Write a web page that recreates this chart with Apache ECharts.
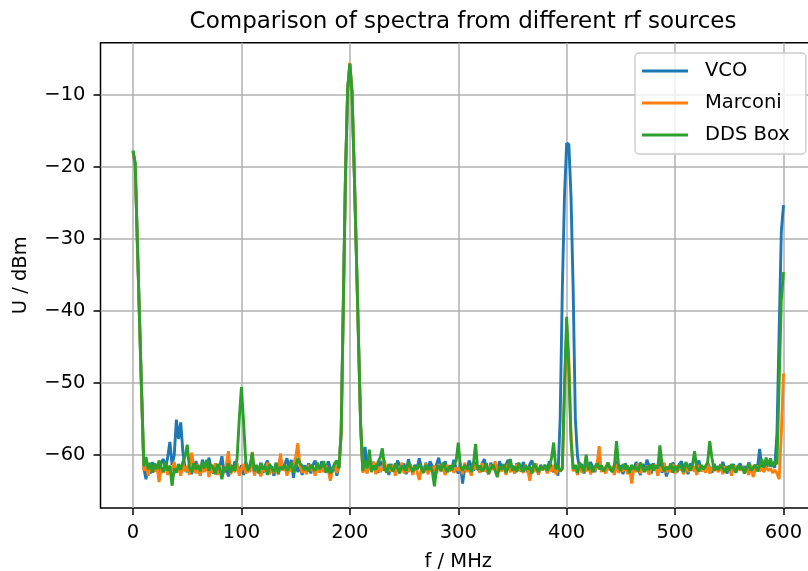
<!DOCTYPE html>
<html>
<head>
<meta charset="utf-8">
<script src="https://cdn.jsdelivr.net/npm/echarts@6/dist/echarts.min.js"></script>
<style>
  html, body { margin: 0; padding: 0; background: #fff; }
  #chart { width: 808px; height: 571px; }
</style>
</head>
<body>
<div id="chart"></div>
<script>
(function () {
    'use strict';

    // frequency axis, MHz
    var freqMHz = [
        0, 2, 4, 6, 8, 10, 12, 14, 16, 18, 20, 22, 24, 26, 28, 30, 32, 34, 36, 38,
        40, 42, 44, 46, 48, 50, 52, 54, 56, 58, 60, 62, 64, 66, 68, 70, 72, 74, 76, 78,
        80, 82, 84, 86, 88, 90, 92, 94, 96, 98, 100, 102, 104, 106, 108, 110, 112, 114, 116, 118,
        120, 122, 124, 126, 128, 130, 132, 134, 136, 138, 140, 142, 144, 146, 148, 150, 152, 154, 156, 158,
        160, 162, 164, 166, 168, 170, 172, 174, 176, 178, 180, 182, 184, 186, 188, 190, 192, 194, 196, 198,
        200, 202, 204, 206, 208, 210, 212, 214, 216, 218, 220, 222, 224, 226, 228, 230, 232, 234, 236, 238,
        240, 242, 244, 246, 248, 250, 252, 254, 256, 258, 260, 262, 264, 266, 268, 270, 272, 274, 276, 278,
        280, 282, 284, 286, 288, 290, 292, 294, 296, 298, 300, 302, 304, 306, 308, 310, 312, 314, 316, 318,
        320, 322, 324, 326, 328, 330, 332, 334, 336, 338, 340, 342, 344, 346, 348, 350, 352, 354, 356, 358,
        360, 362, 364, 366, 368, 370, 372, 374, 376, 378, 380, 382, 384, 386, 388, 390, 392, 394, 396, 398,
        400, 402, 404, 406, 408, 410, 412, 414, 416, 418, 420, 422, 424, 426, 428, 430, 432, 434, 436, 438,
        440, 442, 444, 446, 448, 450, 452, 454, 456, 458, 460, 462, 464, 466, 468, 470, 472, 474, 476, 478,
        480, 482, 484, 486, 488, 490, 492, 494, 496, 498, 500, 502, 504, 506, 508, 510, 512, 514, 516, 518,
        520, 522, 524, 526, 528, 530, 532, 534, 536, 538, 540, 542, 544, 546, 548, 550, 552, 554, 556, 558,
        560, 562, 564, 566, 568, 570, 572, 574, 576, 578, 580, 582, 584, 586, 588, 590, 592, 594, 596, 598,
        600
    ];

    // VCO, dBm
    var vco = [
        -17.8, -19.6, -30.5, -41.2, -51.8, -61.9, -63.4, -61.2, -62.6, -61.0,
        -62.3, -61.5, -62.8, -61.1, -60.6, -62.0, -60.3, -58.2, -61.4, -60.1,
        -55.1, -57.8, -55.5, -59.6, -61.9, -62.4, -61.3, -62.7, -61.6, -60.9,
        -61.8, -62.9, -60.7, -61.5, -62.2, -60.4, -61.9, -62.6, -61.2, -62.0,
        -61.6, -60.2, -62.5, -61.8, -63.0, -61.4, -62.1, -60.9, -61.7, -62.3,
        -61.5, -62.8, -61.0, -62.4, -61.3, -60.6, -62.7, -61.9, -62.2, -61.1,
        -62.5, -61.4, -60.8, -62.0, -61.6, -62.9, -61.2, -61.8, -60.4, -62.1,
        -61.3, -60.5, -61.9, -60.7, -63.2, -61.0, -62.4, -61.6, -62.8, -61.5,
        -62.0, -61.2, -62.6, -61.4, -60.8, -61.9, -62.3, -60.9, -61.7, -62.5,
        -60.9, -61.8, -62.4, -61.2, -62.9, -61.5, -57.0, -39.0, -21.0, -9.2,
        -5.7, -9.6, -20.2, -32.0, -44.0, -56.0, -62.3, -58.9, -61.6, -60.5,
        -62.1, -61.0, -61.8, -62.5, -60.9, -61.4, -62.2, -61.7, -62.8, -61.3,
        -61.9, -62.4, -60.8, -61.5, -62.1, -61.2, -62.7, -60.6, -61.8, -62.3,
        -61.4, -62.0, -60.5, -61.7, -62.5, -61.1, -62.2, -60.9, -61.6, -62.8,
        -61.3, -60.4, -62.1, -61.8, -60.9, -62.4, -61.5, -62.0, -60.7, -61.9,
        -62.6, -61.2, -64.0, -61.7, -62.3, -60.8, -61.5, -62.2, -61.0, -61.8,
        -62.4, -61.3, -60.6, -61.9, -62.7, -61.1, -62.0, -61.6, -62.5, -60.9,
        -61.7, -62.2, -61.4, -60.7, -62.0, -61.5, -62.6, -61.2, -61.8, -62.3,
        -61.0, -61.9, -62.4, -61.3, -60.8, -62.1, -61.6, -62.7, -61.4, -62.0,
        -61.5, -62.2, -60.9, -61.8, -62.4, -61.2, -62.9, -55.0, -37.0, -24.0,
        -16.7, -16.8, -24.0, -37.0, -55.0, -60.2, -62.0, -61.3, -62.6, -61.5,
        -62.2, -61.0, -61.7, -62.4, -61.3, -60.6, -62.1, -61.8, -62.5, -61.1,
        -61.9, -62.3, -61.4, -60.9, -62.0, -61.5, -62.7, -61.2, -61.8, -62.2,
        -61.6, -62.4, -61.0, -61.9, -62.8, -61.3, -62.1, -60.7, -61.5, -62.6,
        -61.2, -62.0, -61.7, -60.8, -62.5, -61.4, -63.0, -61.9, -62.3, -61.1,
        -61.8, -62.4, -61.3, -60.9, -62.1, -61.6, -62.7, -61.2, -61.9, -62.2,
        -61.4, -60.8, -62.3, -61.7, -62.0, -61.1, -61.8, -62.5, -61.3, -62.0,
        -61.6, -62.2, -61.0, -61.9, -62.6, -61.5, -62.1, -61.3, -62.4, -61.7,
        -61.2, -62.0, -61.6, -62.3, -61.1, -61.8, -62.2, -61.4, -61.9, -59.2,
        -61.7, -61.0, -61.5, -60.8, -61.6, -61.2, -61.8, -57.0, -43.0, -29.0,
        -25.3
    ];

    // Marconi, dBm
    var marconi = [
        -17.9, -19.7, -30.6, -41.3, -51.9, -62.2, -61.5, -62.9, -61.3, -62.4,
        -62.2, -61.4, -63.8, -61.9, -62.5, -61.3, -62.8, -61.6, -62.2, -61.0,
        -62.4, -61.7, -62.9, -61.2, -62.3, -61.6, -62.8, -59.7, -61.5, -62.6,
        -61.3, -62.9, -61.8, -62.4, -60.9, -63.1, -61.7, -62.5, -61.2, -62.8,
        -61.5, -63.0, -62.1, -61.4, -59.5, -62.7, -61.8, -62.4, -61.2, -62.9,
        -62.0, -61.3, -62.6, -61.8, -62.4, -59.6, -62.9, -61.5, -62.2, -63.0,
        -61.6, -62.3, -61.1, -62.7, -61.9, -62.5, -61.4, -62.8, -59.8, -62.2,
        -61.5, -62.9, -61.8, -62.3, -61.2, -60.4, -58.4, -61.6, -62.5, -61.9,
        -62.7, -61.4, -62.2, -61.8, -62.9, -61.3, -62.5, -61.7, -62.4, -61.5,
        -62.1, -63.6, -62.0, -61.4, -62.5, -61.7, -57.2, -39.2, -21.1, -9.0,
        -5.5, -9.5, -20.1, -32.1, -44.2, -56.1, -62.5, -61.8, -62.6, -61.4,
        -62.2, -61.0, -62.7, -61.6, -62.4, -61.9, -60.8, -62.5, -61.7, -62.3,
        -61.4, -62.9, -61.8, -62.2, -61.1, -62.6, -61.9, -62.4, -61.3, -62.8,
        -61.6, -62.3, -63.5, -61.9, -62.5, -61.2, -62.7, -61.8, -62.4, -61.5,
        -62.6, -61.3, -62.2, -61.9, -62.8, -61.4, -62.3, -61.7, -62.5, -61.8,
        -62.2, -61.5, -62.7, -61.1, -62.4, -61.8, -62.9, -61.3, -62.0, -61.6,
        -62.5, -61.2, -62.3, -61.9, -62.7, -61.4, -62.1, -60.9, -62.6, -61.7,
        -62.3, -61.5, -62.8, -61.2, -62.4, -61.8, -62.6, -61.3, -62.2, -61.9,
        -62.5, -61.4, -62.0, -63.6, -61.7, -62.4, -61.2, -62.8, -61.6, -62.1,
        -61.5, -62.6, -61.8, -62.3, -61.4, -62.7, -61.9, -62.3, -62.0, -52.0,
        -42.0, -46.5, -57.0, -62.3, -61.6, -62.8, -61.2, -62.5, -61.8, -62.3,
        -61.5, -62.7, -61.9, -62.2, -61.3, -58.8, -62.4, -61.7, -62.6, -61.4,
        -62.2, -61.6, -62.8, -61.3, -62.5, -61.9, -62.3, -61.5, -62.7, -61.8,
        -64.0, -61.7, -62.4, -61.2, -62.6, -61.8, -62.3, -61.5, -62.8, -61.6,
        -62.2, -61.4, -62.9, -61.7, -62.3, -61.1, -62.5, -61.8, -62.4, -61.3,
        -62.6, -61.5, -62.1, -61.9, -62.7, -61.2, -62.4, -61.7, -62.2, -61.6,
        -62.8, -61.4, -62.3, -61.8, -62.5, -61.1, -62.6, -61.7, -62.2, -61.9,
        -62.4, -61.3, -62.7, -61.6, -62.1, -61.8, -62.9, -61.5, -62.3, -61.7,
        -62.2, -61.6, -62.5, -61.9, -62.8, -61.4, -63.1, -62.0, -61.5, -62.3,
        -61.8, -62.4, -61.6, -62.2, -61.9, -62.5, -62.1, -62.6, -63.4, -57.0,
        -48.7
    ];

    // DDS Box, dBm
    var ddsBox = [
        -17.7, -19.4, -30.4, -41.1, -51.7, -61.6, -60.3, -62.0, -61.1, -62.5,
        -61.2, -62.0, -60.8, -61.7, -62.4, -61.0, -62.2, -61.5, -64.3, -61.9,
        -62.5, -61.3, -62.1, -61.0, -60.2, -58.6, -61.8, -62.4, -61.2, -62.0,
        -61.5, -62.3, -61.0, -61.9, -60.7, -62.2, -61.4, -61.8, -62.7, -61.3,
        -61.9, -63.4, -61.7, -62.1, -61.2, -62.5, -61.6, -62.2, -60.5, -55.0,
        -50.6, -55.5, -61.0, -62.2, -61.5, -59.7, -62.3, -61.4, -62.6, -61.2,
        -62.0, -61.6, -62.8, -61.3, -61.9, -62.4, -61.1, -62.6, -61.7, -62.0,
        -61.4, -62.2, -61.8, -61.0, -62.5, -61.6, -60.5, -61.2, -61.5, -62.1,
        -61.7, -62.3, -61.4, -61.9, -62.2, -61.1, -62.0, -61.6, -60.9, -62.4,
        -61.8, -62.6, -62.1, -61.2, -60.8, -61.9, -56.8, -38.8, -20.9, -9.1,
        -5.6, -9.6, -20.2, -32.0, -44.1, -56.0, -62.2, -60.8, -61.9, -59.3,
        -62.4, -61.5, -62.1, -61.0, -60.4, -59.1, -61.8, -62.5, -61.3, -61.9,
        -62.3, -61.2, -61.8, -62.6, -61.5, -61.9, -62.2, -61.0, -61.7, -62.4,
        -61.6, -62.0, -61.3, -61.9, -62.5, -61.4, -62.1, -61.7, -62.2, -64.4,
        -62.0, -61.5, -62.3, -61.1, -61.8, -62.4, -61.6, -62.1, -61.3, -60.9,
        -58.3, -61.6, -62.2, -61.4, -62.0, -61.7, -62.4, -61.2, -58.5, -62.1,
        -61.5, -62.3, -61.8, -61.2, -62.6, -61.9, -61.4, -62.2, -63.1, -61.7,
        -62.0, -61.3, -62.5, -61.8, -60.6, -62.2, -61.6, -62.4, -61.1, -61.9,
        -62.3, -61.5, -62.0, -61.7, -62.6, -61.2, -61.8, -62.4, -61.6, -62.1,
        -61.4, -62.2, -61.7, -60.5, -58.3, -62.0, -61.5, -62.3, -61.9, -50.0,
        -40.8, -48.0, -58.0, -62.0, -61.4, -62.5, -61.1, -61.8, -62.3, -60.0,
        -62.1, -61.4, -62.4, -61.7, -61.2, -62.0, -61.5, -62.3, -61.8, -61.1,
        -61.9, -62.4, -61.6, -58.1, -61.8, -62.2, -61.3, -62.0, -61.5, -62.5,
        -61.4, -62.0, -61.7, -62.3, -61.1, -61.8, -62.4, -61.6, -62.1, -61.3,
        -62.2, -61.5, -61.9, -58.7, -61.4, -62.3, -61.7, -62.0, -61.2, -62.5,
        -61.6, -62.1, -61.3, -61.8, -62.4, -61.0, -61.7, -62.2, -61.5, -59.5,
        -61.9, -62.3, -61.4, -62.0, -61.6, -61.1, -58.1, -60.4, -62.2, -61.7,
        -62.1, -61.4, -61.9, -62.4, -61.6, -62.2, -61.3, -61.8, -62.5, -61.5,
        -62.0, -61.7, -62.6, -61.9, -61.3, -62.2, -61.8, -61.4, -62.3, -61.6,
        -60.6, -61.8, -60.4, -61.6, -60.5, -61.7, -60.9, -61.3, -50.0, -38.5,
        -34.6
    ];

    var xTicks = [0, 100, 200, 300, 400, 500, 600];
    var yTicks = [-60, -50, -40, -30, -20, -10];

    var seriesNames = ['VCO', 'Marconi', 'DDS Box'];
    var seriesColors = ['#1f77b4', '#ff7f0e', '#2ca02c'];
    var seriesValues = [vco, marconi, ddsBox];

    var font = 'DejaVu Sans';

    function pairs(values) {
        return freqMHz.map(function (f, i) { return [f, values[i]]; });
    }

    function minusFmt(v) {
        return (v < 0 ? '\u2212' : '') + Math.abs(v);
    }

    var chart = echarts.init(document.getElementById('chart'), null, { renderer: 'canvas' });

    chart.setOption({
        animation: false,
        backgroundColor: '#fff',
        title: {
            text: 'Comparison of spectra from different rf sources',
            left: 458,
            textAlign: 'center',
            top: 6,
            textStyle: { fontFamily: font, fontSize: 23, fontWeight: 'normal', color: '#000' }
        },
        legend: {
            orient: 'vertical',
            left: 635,
            top: 53,
            padding: [8, 16, 9, 7],
            itemGap: 12,
            itemWidth: 46,
            itemHeight: 3,
            icon: 'rect',
            backgroundColor: 'rgba(255,255,255,0.8)',
            borderColor: '#cccccc',
            borderWidth: 1.4,
            borderRadius: 4,
            textStyle: { fontFamily: font, fontSize: 19.5, color: '#000', lineHeight: 20, padding: [0, 0, 0, 12] },
            data: seriesNames
        },
        grid: {
            left: 100.5,
            top: 42.7,
            width: 715.5,
            bottom: 63,
            show: true,
            borderColor: '#000',
            borderWidth: 1.5,
            containLabel: false,
            outerBoundsMode: 'none'
        },
        xAxis: {
            type: 'value',
            min: -30,
            max: 630,
            name: 'f / MHz',
            nameLocation: 'middle',
            nameGap: 44,
            nameTextStyle: { fontFamily: font, fontSize: 19.5, color: '#000' },
            axisLine: { show: false, onZero: false },
            axisTick: { show: true, inside: false, length: 7, lineStyle: { color: '#000', width: 1.5 }, customValues: xTicks },
            axisLabel: { fontFamily: font, fontSize: 19.5, color: '#000', margin: 15, customValues: xTicks, formatter: minusFmt },
            splitLine: { show: true, lineStyle: { color: '#b0b0b0', width: 1.5 } }
        },
        yAxis: {
            type: 'value',
            min: -67.4,
            max: -2.7,
            name: 'U / dBm',
            nameLocation: 'middle',
            nameGap: 70,
            nameTextStyle: { fontFamily: font, fontSize: 19.5, color: '#000' },
            axisLine: { show: false, onZero: false },
            axisTick: { show: true, inside: false, length: 7, lineStyle: { color: '#000', width: 1.5 }, customValues: yTicks },
            axisLabel: { fontFamily: font, fontSize: 19.5, color: '#000', margin: 15, customValues: yTicks, formatter: minusFmt },
            splitLine: { show: true, lineStyle: { color: '#b0b0b0', width: 1.5 } }
        },
        series: seriesNames.map(function (name, k) {
            return {
                name: name,
                type: 'line',
                data: pairs(seriesValues[k]),
                showSymbol: false,
                symbol: 'none',
                color: seriesColors[k],
                lineStyle: { width: 2.9, color: seriesColors[k] },
                emphasis: { disabled: true },
                z: 2 + k
            };
        })
    });
})();
</script>
</body>
</html>
